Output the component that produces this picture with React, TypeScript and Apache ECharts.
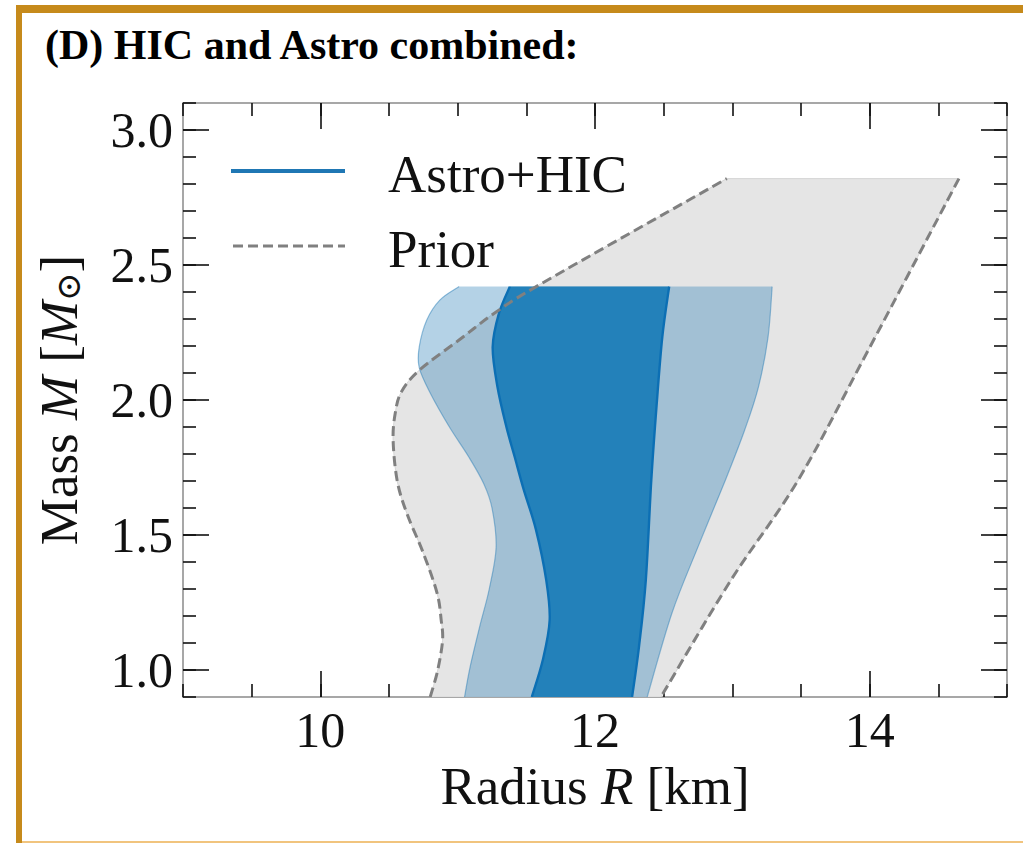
import React, { useEffect, useRef } from "react";
import * as echarts from "echarts";

// Axis ranges and tick values
const R_MIN = 9;
const R_MAX = 15;
const M_MIN = 0.9;
const M_MAX = 3.1;
const rMajorTicks = [10, 12, 14];
const mMajorTicks = [1.0, 1.5, 2.0, 2.5, 3.0];

// Prior envelope: left boundary (bottom -> top), right boundary (top -> bottom)
const priorLeftR = [10.8, 10.855, 10.89, 10.88, 10.85, 10.75, 10.63, 10.56, 10.53, 10.545, 10.59, 10.72, 11.01, 11.28, 11.64, 12.96];
const priorLeftM = [0.9, 1.0, 1.11, 1.185, 1.285, 1.433, 1.58, 1.7, 1.85, 1.95, 2.03, 2.11, 2.222, 2.326, 2.44, 2.82];
const priorRightR = [14.65, 13.99, 13.48, 12.99, 12.48];
const priorRightM = [2.82, 2.185, 1.704, 1.333, 0.9];

// Astro+HIC 95% band
const outerLeftR = [11.05, 11.09, 11.16, 11.23, 11.28, 11.25, 11.19, 11.08, 10.94, 10.8, 10.72, 10.72, 10.775, 10.87, 11.01];
const outerLeftM = [0.9, 1.01, 1.16, 1.3, 1.455, 1.6, 1.69, 1.79, 1.9, 2.026, 2.12, 2.196, 2.296, 2.37, 2.42];
const outerRightR = [13.29, 13.26, 13.19, 13.09, 12.95, 12.75, 12.56, 12.38];
const outerRightM = [2.42, 2.233, 2.048, 1.889, 1.704, 1.456, 1.21, 0.9];

// Astro+HIC 68% band
const innerLeftR = [11.54, 11.62, 11.67, 11.645, 11.57, 11.48, 11.415, 11.355, 11.29, 11.255, 11.3, 11.38];
const innerLeftM = [0.9, 1.037, 1.185, 1.333, 1.52, 1.67, 1.79, 1.9, 2.048, 2.196, 2.32, 2.42];
const innerRightR = [12.54, 12.49, 12.45, 12.41, 12.37, 12.32, 12.27];
const innerRightM = [2.42, 2.233, 1.99, 1.704, 1.333, 1.085, 0.9];

const SERIF = '"Liberation Serif", "DejaVu Serif", "Times New Roman", serif';
const GOLD = "#c68a1b";

type Pt = number[];

function zip(rs: number[], ms: number[]): Pt[] {
  return rs.map((r, i) => [r, ms[i]]);
}

// Smooth curve through pixel points (Catmull-Rom written as cubic Beziers)
function curve(pts: Pt[], start: boolean): string {
  let d = `${start ? "M" : "L"}${pts[0][0]},${pts[0][1]}`;
  for (let i = 0; i < pts.length - 1; i++) {
    const p0 = pts[Math.max(i - 1, 0)];
    const p1 = pts[i];
    const p2 = pts[i + 1];
    const p3 = pts[Math.min(i + 2, pts.length - 1)];
    const c1x = p1[0] + (p2[0] - p0[0]) / 6;
    const c1y = p1[1] + (p2[1] - p0[1]) / 6;
    const c2x = p2[0] - (p3[0] - p1[0]) / 6;
    const c2y = p2[1] - (p3[1] - p1[1]) / 6;
    d += ` C${c1x},${c1y} ${c2x},${c2y} ${p2[0]},${p2[1]}`;
  }
  return d;
}

type Builder = (toPx: (p: Pt) => Pt) => any[];

function shapeSeries(name: string, build: Builder) {
  return {
    type: "custom",
    name,
    silent: true,
    clip: true,
    xAxisIndex: 0,
    yAxisIndex: 0,
    data: [[R_MIN, M_MIN]],
    renderItem: (_params: any, api: any) => {
      const toPx = (p: Pt) => api.coord(p) as Pt;
      return { type: "group", children: build(toPx) };
    },
  };
}

function bandPath(toPx: (p: Pt) => Pt, left: Pt[], right: Pt[]): string {
  return curve(left.map(toPx), true) + " " + curve(right.map(toPx), false) + " Z";
}

export default function App() {
  const ref = useRef<HTMLDivElement>(null);

  useEffect(() => {
    if (!ref.current) return;
    const chart = echarts.init(ref.current, undefined, { renderer: "svg" });

    const priorL = zip(priorLeftR, priorLeftM);
    const priorR = zip(priorRightR, priorRightM);
    const outerL = zip(outerLeftR, outerLeftM);
    const outerR = zip(outerRightR, outerRightM);
    const innerL = zip(innerLeftR, innerLeftM);
    const innerR = zip(innerRightR, innerRightM);

    const tickLabel = {
      fontFamily: SERIF,
      fontSize: 50,
      color: "#111",
    };

    const spine = { show: true, lineStyle: { color: "#8a8a8a", width: 1.5 } };
    const minorTick = (len: number) => ({
      show: true,
      inside: true,
      length: len,
      lineStyle: { color: "#111", width: 1.6 },
    });

    const xBase = {
      type: "value",
      min: R_MIN,
      max: R_MAX,
      interval: 0.5,
      splitLine: { show: false },
    };
    const yBase = {
      type: "value",
      min: M_MIN,
      max: M_MAX,
      interval: 0.1,
      splitLine: { show: false },
    };

    const option: any = {
      animation: false,
      backgroundColor: "#ffffff",
      grid: { left: 183, right: 16, top: 103, bottom: 146, containLabel: false },
      xAxis: [
        {
          ...xBase,
          position: "bottom",
          axisLine: spine,
          axisTick: minorTick(13),
          axisLabel: {
            ...tickLabel,
            margin: 8,
            customValues: rMajorTicks,
            formatter: (v: number) => String(Math.round(v)),
          },
          name: "Radius {it|R} [km]",
          nameLocation: "middle",
          nameGap: 58,
          nameTextStyle: {
            fontFamily: SERIF,
            fontSize: 53,
            color: "#111",
            rich: { it: { fontFamily: SERIF, fontSize: 53, fontStyle: "italic", color: "#111" } },
          },
        },
        {
          ...xBase,
          position: "bottom",
          axisLine: { show: false },
          axisTick: { ...minorTick(26), customValues: rMajorTicks },
          axisLabel: { show: false },
        },
        {
          ...xBase,
          position: "top",
          axisLine: spine,
          axisTick: minorTick(13),
          axisLabel: { show: false },
        },
        {
          ...xBase,
          position: "top",
          axisLine: { show: false },
          axisTick: { ...minorTick(26), customValues: rMajorTicks },
          axisLabel: { show: false },
        },
      ],
      yAxis: [
        {
          ...yBase,
          position: "left",
          axisLine: spine,
          axisTick: minorTick(13),
          axisLabel: {
            ...tickLabel,
            margin: 10,
            customValues: mMajorTicks,
            formatter: (v: number) => v.toFixed(1),
          },
          name: "Mass {it|M} [{it|M}{sub|⊙}]",
          nameLocation: "middle",
          nameGap: 98,
          nameTextStyle: {
            fontFamily: SERIF,
            fontSize: 53,
            color: "#111",
            rich: {
              it: { fontFamily: SERIF, fontSize: 53, fontStyle: "italic", color: "#111" },
              sub: { fontFamily: SERIF, fontSize: 34, color: "#111", verticalAlign: "bottom", padding: [18, 0, 0, 0] },
            },
          },
        },
        {
          ...yBase,
          position: "left",
          axisLine: { show: false },
          axisTick: { ...minorTick(26), customValues: mMajorTicks },
          axisLabel: { show: false },
        },
        {
          ...yBase,
          position: "right",
          axisLine: spine,
          axisTick: minorTick(13),
          axisLabel: { show: false },
        },
        {
          ...yBase,
          position: "right",
          axisLine: { show: false },
          axisTick: { ...minorTick(26), customValues: mMajorTicks },
          axisLabel: { show: false },
        },
      ],
      series: [
        shapeSeries("Prior region", (toPx) => [
          {
            type: "path",
            shape: { pathData: bandPath(toPx, priorL, priorR) },
            style: { fill: "#e5e5e5", stroke: "#d6d6d6", lineWidth: 1 },
          },
        ]),
        shapeSeries("Astro+HIC 95%", (toPx) => [
          {
            type: "path",
            shape: { pathData: bandPath(toPx, outerL, outerR) },
            style: { fill: "rgba(31,119,180,0.335)", stroke: "none" },
          },
          {
            type: "path",
            shape: { pathData: curve(outerL.map(toPx), true) },
            style: { fill: "none", stroke: "rgba(31,119,180,0.45)", lineWidth: 1.2 },
          },
          {
            type: "path",
            shape: { pathData: curve(outerR.map(toPx), true) },
            style: { fill: "none", stroke: "rgba(31,119,180,0.45)", lineWidth: 1.2 },
          },
        ]),
        shapeSeries("Astro+HIC 68%", (toPx) => [
          {
            type: "path",
            shape: { pathData: bandPath(toPx, innerL, innerR) },
            style: { fill: "#2381ba", stroke: "none" },
          },
          {
            type: "path",
            shape: { pathData: curve(innerL.map(toPx), true) },
            style: { fill: "none", stroke: "#0c6fb4", lineWidth: 2.4 },
          },
          {
            type: "path",
            shape: { pathData: curve(innerR.map(toPx), true) },
            style: { fill: "none", stroke: "#0c6fb4", lineWidth: 2.4 },
          },
        ]),
        shapeSeries("Prior", (toPx) => [
          {
            type: "path",
            shape: { pathData: curve(priorL.map(toPx), true) },
            style: { fill: "none", stroke: "#808080", lineWidth: 3, lineDash: [10, 5] },
          },
          {
            type: "path",
            shape: { pathData: curve(priorR.map(toPx), true) },
            style: { fill: "none", stroke: "#808080", lineWidth: 3, lineDash: [10, 5] },
          },
        ]),
      ],
      graphic: [
        // page frame
        { type: "rect", shape: { x: 16, y: 5, width: 1007, height: 8 }, style: { fill: GOLD }, silent: true },
        { type: "rect", shape: { x: 16, y: 5, width: 6, height: 838 }, style: { fill: GOLD }, silent: true },
        { type: "rect", shape: { x: 22, y: 841, width: 1001, height: 2 }, style: { fill: "#f1c47e" }, silent: true },
        {
          type: "text",
          x: 45,
          y: 24,
          style: {
            text: "(D) HIC and Astro combined:",
            fontFamily: SERIF,
            fontSize: 42,
            fontWeight: "bold",
            fill: "#000",
            verticalAlign: "top",
          },
        },
        // legend
        { type: "line", shape: { x1: 231, y1: 171, x2: 345, y2: 171 }, style: { stroke: "#1f77b4", lineWidth: 4 }, z: 10 },
        {
          type: "line",
          shape: { x1: 233, y1: 246, x2: 345, y2: 246 },
          style: { stroke: "#808080", lineWidth: 3, lineDash: [10, 5] },
          z: 10,
        },
        {
          type: "text",
          x: 388,
          y: 174,
          z: 10,
          style: { text: "Astro+HIC", fontFamily: SERIF, fontSize: 53, fill: "#111", verticalAlign: "middle" },
        },
        {
          type: "text",
          x: 388,
          y: 249,
          z: 10,
          style: { text: "Prior", fontFamily: SERIF, fontSize: 53, fill: "#111", verticalAlign: "middle" },
        },
      ],
    };

    chart.setOption(option);
    return () => chart.dispose();
  }, []);

  return (
    <div
      ref={ref}
      style={{ position: "fixed", left: 0, top: 0, width: 1023, height: 843, background: "#fff" }}
    />
  );
}
